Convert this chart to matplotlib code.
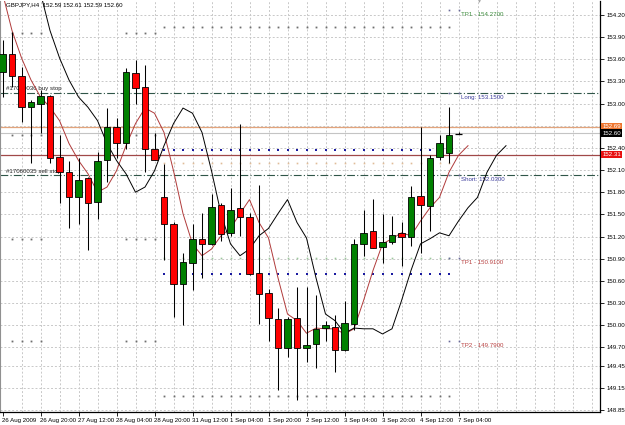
import matplotlib
matplotlib.use("Agg")
from matplotlib import pyplot as plt
from matplotlib.patches import Rectangle
import matplotlib.transforms as mtrans

################################################################################
### Data
################################################################################
time_labels = ["26 Aug 2009", "26 Aug 20:00", "27 Aug 12:00", "28 Aug 04:00",
               "28 Aug 20:00", "31 Aug 12:00", "1 Sep 04:00", "1 Sep 20:00",
               "2 Sep 12:00", "3 Sep 04:00", "3 Sep 20:00", "4 Sep 12:00",
               "7 Sep 04:00"]

opens = [153.43, 153.67, 153.37, 152.96, 152.99, 153.10, 152.28, 152.07, 151.73, 151.99,
         151.67, 152.24, 152.69, 152.46, 153.41, 153.22, 152.39, 151.74, 151.37, 150.56,
         150.84, 151.17, 151.10, 151.63, 151.25, 151.58, 151.47, 150.71, 150.44, 150.08,
         149.69, 150.10, 149.69, 149.74, 149.96, 149.97, 149.66, 150.02, 151.10, 151.27,
         151.06, 151.12, 151.25, 151.20, 151.75, 151.62, 152.28, 152.33, 152.59]
highs = [153.86, 153.97, 153.49, 153.05, 153.18, 153.12, 152.57, 152.22, 152.27, 152.00,
         152.34, 152.94, 152.80, 153.48, 153.59, 153.52, 152.60, 152.18, 151.40, 150.97,
         151.37, 151.52, 151.78, 151.66, 151.86, 152.72, 151.52, 151.90, 150.49, 150.23,
         150.11, 150.52, 150.52, 150.41, 150.06, 150.14, 150.33, 151.17, 151.56, 151.71,
         151.51, 151.48, 151.39, 151.89, 152.68, 152.30, 152.57, 152.95, 152.61]
lows = [153.09, 153.22, 152.75, 152.19, 152.60, 152.20, 151.66, 151.32, 151.37, 151.02,
        151.44, 151.94, 152.27, 152.39, 153.00, 152.08, 152.23, 150.88, 150.11, 150.00,
        150.48, 150.64, 151.09, 151.14, 151.21, 151.21, 150.68, 150.02, 149.78, 149.12,
        149.57, 148.98, 149.50, 149.42, 149.78, 149.36, 149.65, 149.93, 150.94, 151.04,
        150.84, 151.10, 150.80, 151.07, 150.97, 151.28, 152.23, 152.20, 152.59]
closes = [153.67, 153.37, 152.95, 153.02, 153.10, 152.27, 152.08, 151.74, 151.96, 151.66,
          152.22, 152.68, 152.47, 153.43, 153.21, 152.39, 152.24, 151.37, 150.55, 150.86,
          151.17, 151.10, 151.60, 151.24, 151.56, 151.46, 150.69, 150.42, 150.10, 149.69,
          150.08, 149.69, 149.73, 149.95, 150.00, 149.66, 150.03, 151.10, 151.25, 151.05,
          151.13, 151.22, 151.20, 151.74, 151.63, 152.27, 152.47, 152.58, 152.60]

# moving average (red), the black line is the same average displaced 4 bars
ma_values = [154.50, 153.99, 153.62, 153.32, 153.09, 152.95, 152.77, 152.46, 152.23, 152.05,
             151.80, 151.87, 152.09, 152.43, 152.73, 152.94, 152.87, 152.61, 152.09, 151.51,
             151.10, 150.94, 151.03, 151.21, 151.31, 151.51, 151.70, 151.39, 151.18, 150.64,
             150.15, 150.06, 149.89, 149.96, 149.95, 149.95, 149.88, 149.95, 150.33, 150.74,
             151.10, 151.17, 151.25, 151.21, 151.41, 151.59, 151.73, 152.07, 152.30, 152.43]
ma_shift = 4

y_ticks = [154.20, 153.90, 153.60, 153.30, 153.00, 152.70, 152.40, 152.10, 151.80,
           151.50, 151.20, 150.90, 150.60, 150.30, 150.00, 149.70, 149.45, 149.15, 148.85]

# order / level lines
buy_stop = 153.15
sell_stop = 152.03
ask_line = 152.69
bid_line = 152.60
red_line = 152.31
tp_levels = [154.27, 153.15, 152.03, 150.91, 149.79]
tp_texts = ["TP1 - 154.2700", "Long: 153.1500", "Short: 152.0300",
            "TP1 - 150.9100", "TP2 - 149.7900"]
tp_colors = ["#3C8C3C", "#3A3A9A", "#3A3A9A", "#B84040", "#B84040"]

# dotted level objects (price, first bar, last bar)
old_levels = [153.96, 152.57, 151.17, 149.78]
old_spans = [(1, 4), (13, 16)]
gray_levels = [154.04, 149.04]
blue_levels = [152.37, 150.69]
tan_levels = [152.19]
green_levels = [150.91]
day_span = (17, 47)

################################################################################
### Figure
################################################################################
plt.rcParams['font.family'] = ['Liberation Sans', 'DejaVu Sans']
fs = 4.4

fig = plt.figure(figsize=(6.25, 4.25), dpi=100)
ax = fig.add_axes([0, 13 / 425, 600 / 625, 411 / 425])
ax.set_xlim(-2.5 / 9.5, 597.5 / 9.5)
ax.set_ylim(148.823, 154.39)

# grid
grid_kw = dict(color='#C8C8C8', lw=0.7, ls=(0, (2, 2)), zorder=0)
for y in y_ticks:
    ax.axhline(y, **grid_kw)
for xg in range(2, 63, 2):
    ax.axvline(xg, **grid_kw)

# dotted level objects
dot_kw = dict(ls='none', marker='s', mew=0, zorder=1)
for lvl in old_levels:
    for a, b in old_spans:
        ax.plot(range(a, b + 1), [lvl] * (b - a + 1), ms=1.3, color='#6E6E6E', **dot_kw)
bars = range(day_span[0], day_span[1] + 1)
nb = len(bars)
for lvl in gray_levels:
    ax.plot(bars, [lvl] * nb, ms=1.3, color='#6E6E6E', **dot_kw)
for lvl in tan_levels:
    ax.plot(bars, [lvl] * nb, ms=1.2, color='#E0BC98', **dot_kw)
for lvl in green_levels:
    ax.plot(bars, [lvl] * nb, ms=1.2, color='#9CC89C', **dot_kw)
for lvl in blue_levels:
    ax.plot(bars, [lvl] * nb, ms=1.7, color='#1A1AA0', **dot_kw)

# horizontal lines
ax.axhline(buy_stop, color='#2F5548', lw=0.8, ls=(0, (7, 2, 1, 2)), zorder=1)
ax.axhline(sell_stop, color='#2F5548', lw=0.8, ls=(0, (7, 2, 1, 2)), zorder=1)
ax.axhline(ask_line, color='#E2A47C', lw=0.9, zorder=1)
ax.axhline(bid_line, color='#C4C4C4', lw=0.8, zorder=1)
ax.axhline(red_line, color='#A04848', lw=0.9, zorder=1)

ax.text(0.4, buy_stop + 0.02, "#17060036 buy stop", fontsize=fs, color='#222222',
        va='bottom', ha='left', zorder=1)
ax.text(0.4, sell_stop + 0.02, "#17060035 sell stop", fontsize=fs, color='#222222',
        va='bottom', ha='left', zorder=1)

# TP / entry labels
for lvl, txt, col in zip(tp_levels, tp_texts, tp_colors):
    ax.plot([47, 48], [lvl, lvl], ls='none', marker='s', mew=0, ms=1.2, color='#6A6A9A', zorder=2)
    ax.text(48.3, lvl - 0.03, txt, fontsize=fs, color=col, va='top', ha='left', zorder=2)

# moving averages
ax.plot(range(len(ma_values)), ma_values, color='#B03A3A', lw=0.7, zorder=3)
ax.plot([i + ma_shift for i in range(len(ma_values))], ma_values, color='black', lw=0.7, zorder=3)

# candles
for i, (o, h, l, c) in enumerate(zip(opens, highs, lows, closes)):
    ax.vlines(i, l, h, color='black', lw=0.75, zorder=4)
    if abs(c - o) < 0.02:
        ax.hlines((o + c) / 2, i - 0.4, i + 0.4, color='black', lw=0.9, zorder=5)
        continue
    col = '#008000' if c > o else '#FF0000'
    ax.add_patch(Rectangle((i - 0.32, min(o, c)), 0.64, abs(c - o), facecolor=col,
                           edgecolor='black', lw=0.6, zorder=5))

# chart shift marker
ax.plot([50.2], [154.385], marker='v', ms=2, mew=0, color='#A0A0A0', clip_on=False, zorder=6)

# title
ax.text(6 / 600, 1 - 4 / 411, "GBPJPY,H4  152.59 152.61 152.59 152.60", transform=ax.transAxes,
        fontsize=fs, color='black', va='center', ha='left', zorder=6)

# axes
ax.spines['top'].set_visible(False)
ax.spines['left'].set_color('#909090')
ax.spines['left'].set_linewidth(0.8)
ax.spines['right'].set_linewidth(0.9)
ax.spines['bottom'].set_linewidth(0.9)

ax.yaxis.tick_right()
ax.set_yticks(y_ticks)
ax.set_yticklabels(["" if abs(v - 152.70) < 1e-6 else "%.2f" % v for v in y_ticks])
ax.tick_params(axis='y', length=3, width=0.6, labelsize=fs, pad=1.5)

ax.set_xticks(range(0, 4 * len(time_labels), 4))
ax.set_xticklabels(time_labels)
for lab in ax.get_xticklabels():
    lab.set_horizontalalignment('left')
ax.tick_params(axis='x', length=3, width=0.6, labelsize=fs, pad=1.5)

# price boxes on the right scale
trans = mtrans.blended_transform_factory(ax.transAxes, ax.transData)
for val, bg in [(ask_line, '#EE7630'), (bid_line, 'black'), (red_line, '#E81010')]:
    ax.text(1.004, val, "%.2f" % val, transform=trans, fontsize=fs, color='white',
            va='center', ha='left', clip_on=False, zorder=10,
            bbox=dict(boxstyle='square,pad=0.2', facecolor=bg, edgecolor='none'))

fig.savefig("out.png", dpi=100)
